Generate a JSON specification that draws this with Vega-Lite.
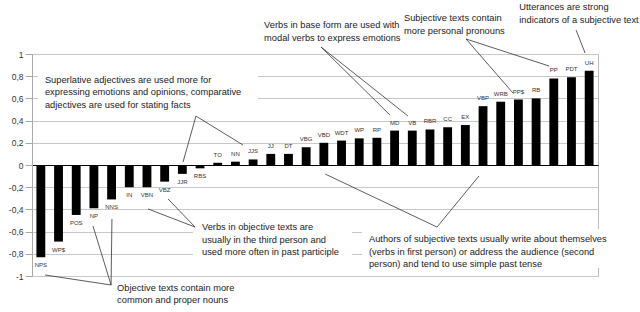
{
  "$schema": "https://vega.github.io/schema/vega-lite/v6.json",
  "autosize": {"type": "none"},
  "width": 566,
  "height": 222,
  "padding": {"left": 32, "top": 54, "right": 42, "bottom": 36},
  "background": "white",
  "config": {
    "view": {"stroke": "#bbbbbb", "strokeWidth": 1},
    "axisY": {
      "grid": true, "gridWidth": 1,
      "domainColor": "#aaaaaa", "tickColor": "#aaaaaa", "tickSize": 7,
      "labelPadding": 2, "labelFontSize": 8.5, "labelColor": "#333333",
      "labelFont": "Liberation Sans", "labelOverlap": false
    }
  },
  "datasets": {
    "bars": [
      {"tag": "NPS", "v": -0.83}, {"tag": "WP$", "v": -0.69}, {"tag": "POS", "v": -0.45},
      {"tag": "NP", "v": -0.39}, {"tag": "NNS", "v": -0.31}, {"tag": "IN", "v": -0.2},
      {"tag": "VBN", "v": -0.2}, {"tag": "VBZ", "v": -0.15}, {"tag": "JJR", "v": -0.08},
      {"tag": "RBS", "v": -0.03}, {"tag": "TO", "v": 0.02}, {"tag": "NN", "v": 0.03},
      {"tag": "JJS", "v": 0.05}, {"tag": "JJ", "v": 0.1}, {"tag": "DT", "v": 0.1},
      {"tag": "VBG", "v": 0.16}, {"tag": "VBD", "v": 0.2}, {"tag": "WDT", "v": 0.22},
      {"tag": "WP", "v": 0.24}, {"tag": "RP", "v": 0.245}, {"tag": "MD", "v": 0.31},
      {"tag": "VB", "v": 0.31}, {"tag": "RBR", "v": 0.32}, {"tag": "CC", "v": 0.34},
      {"tag": "EX", "v": 0.36}, {"tag": "VBP", "v": 0.53}, {"tag": "WRB", "v": 0.57},
      {"tag": "PP$", "v": 0.59}, {"tag": "RB", "v": 0.6}, {"tag": "PP", "v": 0.78},
      {"tag": "PDT", "v": 0.79}, {"tag": "UH", "v": 0.85}
    ],
    "notes": [
      {"x": 0.73, "y": 0.739, "text": "Superlative adjectives are used more for\nexpressing emotions and opinions, comparative\nadjectives are used for stating facts"},
      {"x": 13.12, "y": 1.234, "text": "Verbs in base form are used with\nmodal verbs to express emotions"},
      {"x": 21.03, "y": 1.297, "text": "Subjective texts contain\nmore personal pronouns"},
      {"x": 27.55, "y": 1.396, "text": "Utterances are strong\nindicators of a subjective text"},
      {"x": 9.61, "y": -0.586, "text": "Verbs in objective texts are\nusually in the third person and\nused more often in past participle"},
      {"x": 19.05, "y": -0.694, "text": "Authors of subjective texts usually write about themselves\n(verbs in first person) or address the audience (second\nperson) and tend to use simple past tense"},
      {"x": 4.81, "y": -1.135, "text": "Objective texts contain more\ncommon and proper nouns"}
    ],
    "segs": [
      {"x": 9.27, "y": 0.441, "x2": 8.54, "y2": 0.027},
      {"x": 9.27, "y": 0.441, "x2": 11.93, "y2": 0.18},
      {"x": 16.34, "y": 1.063, "x2": 20.24, "y2": 0.45},
      {"x": 16.34, "y": 1.063, "x2": 21.26, "y2": 0.441},
      {"x": 24.54, "y": 1.135, "x2": 29.23, "y2": 0.892},
      {"x": 24.54, "y": 1.135, "x2": 27.19, "y2": 0.649},
      {"x": 30.76, "y": 1.216, "x2": 31.27, "y2": 1.009},
      {"x": 9.22, "y": -0.559, "x2": 7.69, "y2": -0.306},
      {"x": 9.22, "y": -0.559, "x2": 6.56, "y2": -0.396},
      {"x": 22.9, "y": -0.559, "x2": 16.57, "y2": -0.081},
      {"x": 22.9, "y": -0.559, "x2": 25.27, "y2": -0.099},
      {"x": 4.47, "y": -1.081, "x2": 0.735, "y2": -0.991},
      {"x": 4.47, "y": -1.081, "x2": 3.45, "y2": -0.55},
      {"x": 4.47, "y": -1.081, "x2": 4.52, "y2": -0.486}
    ],
    "boxes": [
      {"x": 0.34, "x2": 12.77, "y": 0.856, "y2": 0.495},
      {"x": 9.1, "x2": 18.09, "y": -0.459, "y2": -0.856},
      {"x": 18.66, "x2": 32.8, "y": -0.577, "y2": -0.928}
    ]
  },
  "layer": [
    {
      "layer": [
        {
          "data": {"name": "bars"},
          "mark": {"type": "bar", "color": "black"},
          "encoding": {
            "x": {"field": "tag", "type": "nominal", "sort": null, "scale": {"paddingInner": 0.5, "paddingOuter": 0.25}, "axis": null},
            "y": {"field": "v", "type": "quantitative", "scale": {"domain": [-1, 1], "nice": false}, "title": null,
                  "axis": {"values": [-1, -0.8, -0.6, -0.4, -0.2, 0, 0.2, 0.4, 0.6, 0.8, 1], "tickCount": 11, "labelOverlap": false,
                           "gridColor": {"condition": {"test": "datum.value === 0", "value": "#000000"}, "value": "#c8c8c8"},
                           "labelExpr": "replace(replace(format(datum.value, '.1~f'), '.', ','), '−', '-')"}}
          }
        },
        {
          "data": {"name": "bars"},
          "transform": [{"filter": "datum.v >= 0"}],
          "mark": {"type": "text", "baseline": "middle", "dy": -8, "fontSize": 6, "font": "Liberation Sans", "color": "#333333"},
          "encoding": {
            "x": {"field": "tag", "type": "nominal", "sort": null, "axis": null},
            "y": {"field": "v", "type": "quantitative", "title": null},
            "text": {"field": "tag"}
          }
        },
        {
          "data": {"name": "bars"},
          "transform": [{"filter": "datum.v < 0"}],
          "mark": {"type": "text", "baseline": "middle", "dy": 8, "fontSize": 6, "font": "Liberation Sans", "color": "#333333"},
          "encoding": {
            "x": {"field": "tag", "type": "nominal", "sort": null, "axis": null},
            "y": {"field": "v", "type": "quantitative", "title": null},
            "text": {"field": "tag"}
          }
        }
      ]
    },
    {
      "layer": [
        {
          "data": {"name": "boxes"},
          "mark": {"type": "rect", "fill": "white"},
          "encoding": {
            "x": {"field": "x", "type": "quantitative", "scale": {"domain": [0, 32], "nice": false, "zero": false}, "axis": null},
            "x2": {"field": "x2"},
            "y": {"field": "y", "type": "quantitative", "title": null},
            "y2": {"field": "y2"}
          }
        },
        {
          "data": {"name": "segs"},
          "mark": {"type": "rule", "color": "#333333", "strokeWidth": 0.8},
          "encoding": {
            "x": {"field": "x", "type": "quantitative"},
            "x2": {"field": "x2"},
            "y": {"field": "y", "type": "quantitative", "title": null},
            "y2": {"field": "y2"}
          }
        },
        {
          "data": {"name": "notes"},
          "mark": {"type": "text", "align": "left", "baseline": "alphabetic", "lineBreak": "\n", "lineHeight": 12.5, "fontSize": 9.3, "font": "Liberation Sans", "color": "#222222"},
          "encoding": {
            "x": {"field": "x", "type": "quantitative"},
            "y": {"field": "y", "type": "quantitative", "title": null},
            "text": {"field": "text"}
          }
        }
      ]
    }
  ],
  "resolve": {"scale": {"x": "independent"}}
}
